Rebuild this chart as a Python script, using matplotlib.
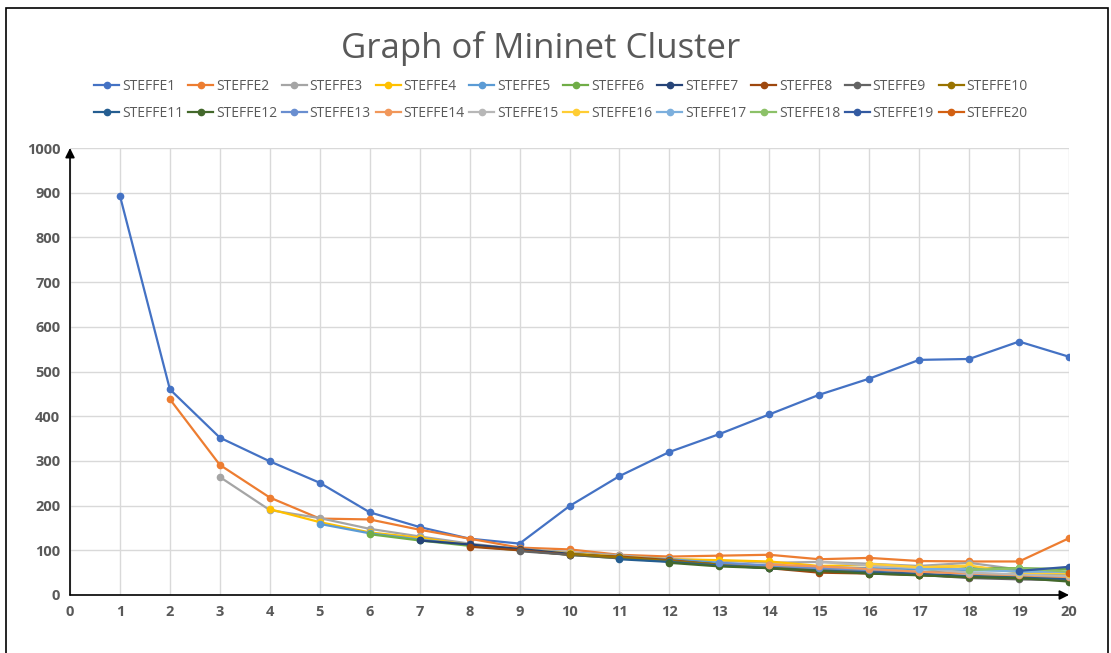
import numpy as np
import matplotlib.pyplot as plt
from matplotlib.patches import Rectangle

x_ticks = list(range(0, 21))

# values per series, series N starts at x = N
s1 = [893, 460, 352, 299, 251, 185, 152, 126, 115, 199, 266, 320, 360, 404, 448, 484, 526, 528, 567, 533]
s2 = [438, 291, 218, 171, 169, 146, 126, 106, 102, 90, 86, 88, 90, 80, 83, 76, 75, 75, 127]
s3 = [264, 190, 172, 148, 131, 115, 103, 96, 89, 80, 77, 72, 74, 70, 65, 72, 57, 45]
s4 = [192, 163, 140, 128, 112, 102, 93, 86, 80, 78, 75, 65, 67, 62, 64, 52, 48]
s5 = [159, 138, 124, 112, 101, 90, 84, 80, 72, 65, 62, 60, 58, 55, 55, 50]
s6 = [136, 122, 110, 100, 90, 82, 76, 68, 62, 58, 52, 50, 60, 60, 58]
s7 = [122, 113, 103, 92, 84, 76, 66, 62, 56, 52, 48, 42, 40, 37]
s8 = [108, 100, 90, 86, 78, 68, 60, 50, 48, 45, 40, 38, 35]
s9 = [98, 90, 82, 75, 68, 60, 56, 50, 45, 38, 35, 33]
s10 = [92, 84, 76, 68, 62, 56, 50, 45, 40, 42, 38]
s11 = [80, 74, 66, 60, 55, 50, 46, 42, 40, 36]
s12 = [72, 64, 60, 54, 48, 44, 40, 38, 30]
s13 = [72, 66, 60, 56, 52, 48, 46, 44]
s14 = [68, 64, 58, 52, 48, 44, 40]
s15 = [74, 66, 60, 50, 46, 42]
s16 = [70, 62, 66, 50, 48]
s17 = [58, 58, 52, 52]
s18 = [56, 60, 52]
s19 = [54, 63]
s20 = [50]

series = [s1, s2, s3, s4, s5, s6, s7, s8, s9, s10,
          s11, s12, s13, s14, s15, s16, s17, s18, s19, s20]
names = ["STEFFE" + str(i) for i in range(1, 21)]
colors = ["#4472C4", "#ED7D31", "#A5A5A5", "#FFC000", "#5B9BD5", "#70AD47",
          "#264478", "#9E480E", "#636363", "#997300", "#255E91", "#43682B",
          "#698ED0", "#F1975A", "#B7B7B7", "#FFCD33", "#7CAFDD", "#8CC168",
          "#335AA1", "#D26012"]

plt.rcParams['font.family'] = ['Open Sans', 'DejaVu Sans']

fig = plt.figure(figsize=(11.11, 6.53), dpi=100)
ax = fig.add_axes([70 / 1111, 1 - 595 / 653, 999 / 1111, 447 / 653])

handles = []
for i, vals in enumerate(series):
    xs = list(range(i + 1, i + 1 + len(vals)))
    h, = ax.plot(xs, vals, color=colors[i], lw=1.6, marker='o', markersize=4.5,
                 label=names[i], zorder=3)
    handles.append(h)

ax.set_xlim(0, 20)
ax.set_ylim(0, 1000)
ax.set_xticks(x_ticks)
ax.set_yticks(range(0, 1001, 100))
ax.grid(True, color="#D9D9D9", lw=1)
ax.set_axisbelow(True)
for sp in ax.spines.values():
    sp.set_visible(False)
ax.tick_params(length=0, labelsize=10.5, labelcolor="#595959", pad=7)
for lab in ax.get_xticklabels() + ax.get_yticklabels():
    lab.set_fontweight('bold')

# axis arrows
ax.annotate("", xy=(0, 1000), xytext=(0, 0), xycoords='data',
            arrowprops=dict(arrowstyle='-|>', color='black', lw=1.2,
                            mutation_scale=14, shrinkA=0, shrinkB=0),
            annotation_clip=False, zorder=5)
ax.annotate("", xy=(20, 0), xytext=(0, 0), xycoords='data',
            arrowprops=dict(arrowstyle='-|>', color='black', lw=1.2,
                            mutation_scale=14, shrinkA=0, shrinkB=0),
            annotation_clip=False, zorder=5)

fig.text(0.487, 1 - 49 / 653, "Graph of Mininet Cluster", ha='center', va='center',
         fontsize=25, color="#595959")

# legend filled row by row (matplotlib fills columns first)
order = []
for c in range(10):
    order += [c, c + 10]
fig.legend([handles[k] for k in order], [names[k] for k in order],
           loc='center', bbox_to_anchor=(0.505, 1 - 100 / 653), ncol=10,
           frameon=False, fontsize=10, labelcolor="#595959", handlelength=1.8,
           handletextpad=0.2, columnspacing=0.35, labelspacing=0.85)

fig.patches.append(Rectangle((6 / 1111, -0.05), 1102 / 1111, 1.05 - 8 / 653,
                             transform=fig.transFigure, fill=False,
                             edgecolor='black', lw=1.2))

fig.savefig("out.png", dpi=100)
